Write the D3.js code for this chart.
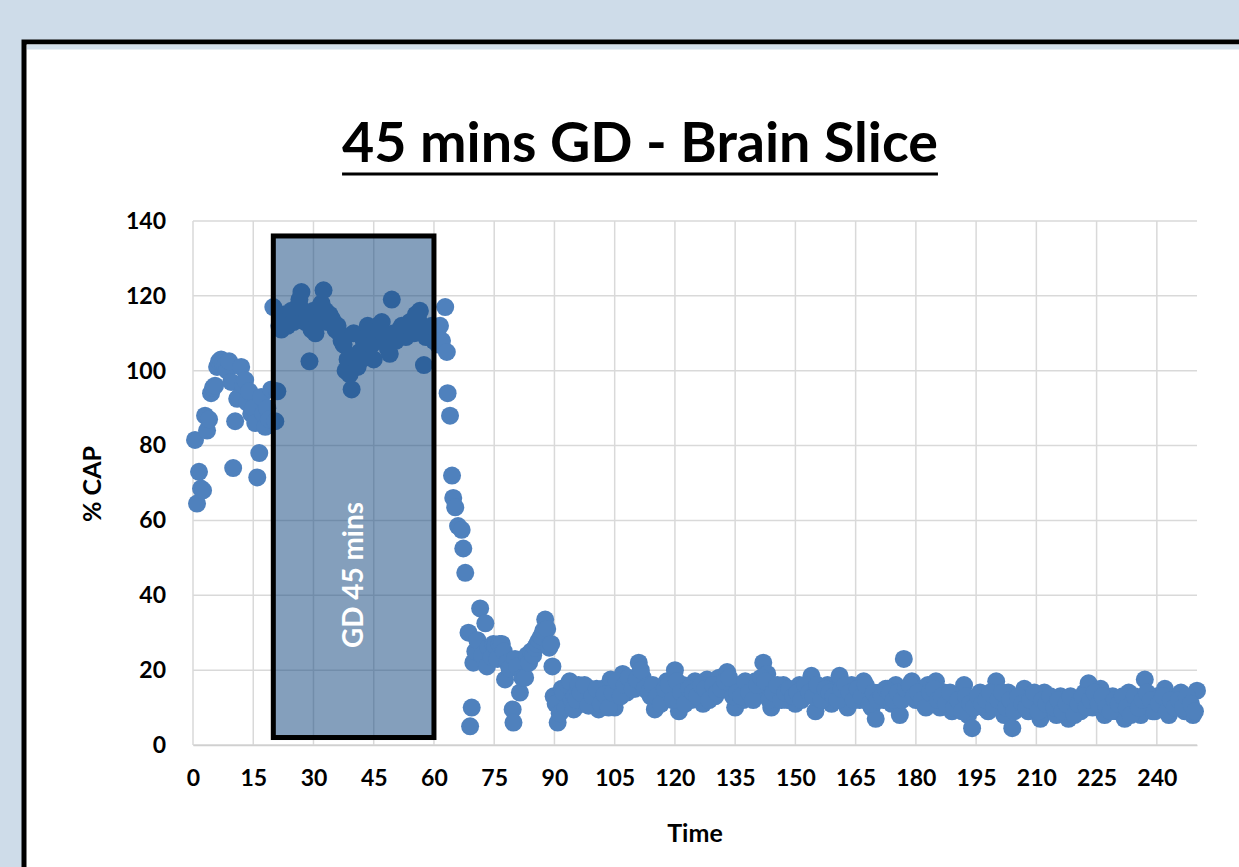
<!DOCTYPE html>
<html><head><meta charset="utf-8">
<script src="https://cdn.jsdelivr.net/npm/d3@7/dist/d3.min.js"></script>
<style>
html,body{margin:0;padding:0;background:#cedce9;}
svg{display:block;}
</style>
</head><body>
<svg id="chart" width="1239" height="867"></svg>
<script>
// ---- text ----
const titleText = "45 mins GD - Brain Slice";
const xLabel = "Time";
const yLabel = "% CAP";
const boxLabel = "GD 45 mins";

// ---- axes ----
const xTicks = [0,15,30,45,60,75,90,105,120,135,150,165,180,195,210,225,240];
const yTicks = [0,20,40,60,80,100,120,140];
const xDomain = [0,250];
const yDomain = [0,140];

// ---- GD window (time from, time to ; %CAP from, to) ----
const gdTime = [20,60];
const gdCap = [2,136];

// ---- data: baseline ----
const baseTime = [0.5,1,1.5,2,2.5,3,3.5,4,4.5,5,5.5,6,6.5,7,7.5,8,8.5,9,9.5,10,10.5,11,11.5,12,12.5,13,13.5,14,14.5,15,15.5,16,16.5,17,17.5,18,18.5,19,19.5,20,20.5,21];
const baseCap = [81.5,64.5,73,68.5,68,88,84,87,94,95.5,96,101,102.5,103,102,101.5,100,102.5,97,74,86.5,92.5,93,101,96,97.5,91.5,94.5,88.5,90,86,71.5,78,93,88.5,85,90,87,95,117,86.5,94.5];

// ---- data: glucose deprivation ----
const gdPhaseTime = [21.5,22,22.5,23,23.5,24,24.5,25,25.5,26,26.5,27,27.5,28,28.5,29,29.5,30,30.5,31,31.5,32,32.5,33,33.5,34,34.5,35,35.5,36,36.5,37,37.5,38,38.5,39,39.5,40,40.5,41,41.5,42,42.5,43,43.5,44,44.5,45,45.5,46,46.5,47,47.5,48,48.5,49,49.5,50,50.5,51,51.5,52,52.5,53,53.5,54,54.5,55,55.5,56,56.5,57,57.5,58,58.5,59,59.5,60];
const gdPhaseCap = [112,111,115,113,112,114,116,113,115,117,119,121,116,113,114,102.5,111,116,110,113,117,118,121.5,116,113,115,114,113,111,112,110,108,107,100,103,99,95,110,104,101,105,103,108,110,112,111,107,103,109,112,111,113,110,108,106,104.5,119,110,108,109,111,112,110,109,112,113,111,110,115,114,116,112,101.5,109,111,110,112,108];

// ---- data: decline after GD ----
const dropTime = [60.5,61,61.5,62,62.8,63.2,63.4,64,64.5,64.8,65.3,66,66.9,67.3,67.8,68.6,69,69.4,69.8,70.3,70.8,71.5,72,72.8,73.2,73.6,74.4,74.8,75.3,75.8,76.3,76.9,77.4,77.7,78.3,78.8,79.6,79.8,80.2,80.7,81.4,82,82.7,83.2,83.7,84.2,84.7,85.2,85.7,86.2,86.7,87.2,87.7,88.2,88.7,89.2,89.5,89.8,90.3,90.8,91.3,91.8,92.3,92.8,93.3,93.8,94.3,94.8];
const dropCap = [111,107,112,108,117,105,94,88,72,66,63.5,58.5,57.5,52.5,46,30,5,10,22,25,28,36.5,24,32.5,21,26,23.5,27,26.5,23,27,27,25,17.5,22,20.5,9.5,6,23,21,14,18,18,24,22,25,24,26,27,28,29,30.5,33.5,31,26,27,21,13,11,6,8.5,15,14,10,16,17,12,9.5];

// ---- data: recovery (whole minutes) ----
const recTime = [95,96,97,98,99,100,101,102,103,104,105,106,107,108,109,110,111,112,113,114,115,116,117,118,119,120,121,122,123,124,125,126,127,128,129,130,131,132,133,134,135,136,137,138,139,140,141,142,143,144,145,146,147,148,149,150,151,152,153,154,155,156,157,158,159,160,161,162,163,164,165,166,167,168,169,170,171,172,173,174,175,176,177,178,179,180,181,182,183,184,185,186,187,188,189,190,191,192,193,194,195,196,197,198,199,200,201,202,203,204,205,206,207,208,209,210,211,212,213,214,215,216,217,218,219,220,221,222,223,224,225,226,227,228,229,230,231,232,233,234,235,236,237,238,239,240,241,242,243,244,245,246,247,248,249,250];
const recCap = [13,16,11,15.5,12,14,9.5,15,12,17.5,10,16,19,14,17,15,22,18,16,13,9.5,15,12,17,14,20,9,16,13,12,17,14,11,17.5,15,13,18,16,19.5,14,10,16,12,15,13,17,14,22,19,10,15,13,16,12,14,11,16,13,15,18.5,9,14,12,16,11,15,18.5,13,10,16,14,12,17,13,10,7,14,12,15,11,16,8,23,14,17,12,15,11,16,13,17,10,14,12,9,13,11,16,8,4.5,12,14,10,9,13,17,11,8,14,4.5,12,10,15,9,13,11,7,14,10,12,8,13,11,7,10,12,9,14,16.5,10,12,15,8,11,13,9,12,7,14,10,12,8,17.5,11,9,13,10,15,8,12,10,14,9,12,8,14.5];

// ---- data: recovery (half minutes) ----
const recHalfTime = [95.5,96.5,97.5,98.5,99.5,100.5,101.5,102.5,103.5,104.5,105.5,106.5,107.5,108.5,109.5,110.5,111.5,112.5,113.5,114.5,115.5,116.5,117.5,118.5,119.5,120.5,121.5,122.5,123.5,124.5,125.5,126.5,127.5,128.5,129.5,130.5,131.5,132.5,133.5,134.5,135.5,136.5,137.5,138.5,139.5,140.5,141.5,142.5,143.5,144.5,145.5,146.5,147.5,148.5,149.5,150.5,151.5,152.5,153.5,154.5,155.5,156.5,157.5,158.5,159.5,160.5,161.5,162.5,163.5,164.5,165.5,166.5,167.5,168.5,169.5,170.5,171.5,172.5,173.5,174.5,175.5,176.5,177.5,178.5,179.5,180.5,181.5,182.5,183.5,184.5,185.5,186.5,187.5,188.5,189.5,190.5,191.5,192.5,193.5,194.5,195.5,196.5,197.5,198.5,199.5,200.5,201.5,202.5,203.5,204.5,205.5,206.5,207.5,208.5,209.5,210.5,211.5,212.5,213.5,214.5,215.5,216.5,217.5,218.5,219.5,220.5,221.5,222.5,223.5,224.5,225.5,226.5,227.5,228.5,229.5,230.5,231.5,232.5,233.5,234.5,235.5,236.5,237.5,238.5,239.5,240.5,241.5,242.5,243.5,244.5,245.5,246.5,247.5,248.5,249.5];
const recHalfCap = [12,14,16,10.5,13,15,11,13.5,10,14,17,13,16,18,15,17.5,20,15,14,16,13,11,15,16,12,17,14,11,15,14,13,16,15,12,16,14,15,17,18,13,14,13,17,14,12,16,18,17,12,14,16,12,14,15,13,14,12,16,14,13,16,12,15,14,13,12,15,16,14,12,15,13,16,11,14,12,13,15,14,12,14,12,15,16,13,14,12,10,14,15,12,13,11,14,10,12,9,13,11,10,13,11,12,14,10,12,14,10,12,9,13,11,10,12,14,9,12,11,13,10,12,9,11,13,8,11,13,10,12,14,11,13,10,9,12,11,13,10,8,13,10,12,14,12,9,11,13,9,12,10,12,10,13,11,9];

const segments = [[baseTime,baseCap],[gdPhaseTime,gdPhaseCap],[dropTime,dropCap],[recTime,recCap],[recHalfTime,recHalfCap]];
const points = [];
segments.forEach(([t,v]) => t.forEach((ti,i) => points.push({t:ti, v:v[i]})));

// ---- drawing ----
const svg = d3.select("#chart");
const FONT = "Lato, 'Open Sans', 'Liberation Sans', sans-serif";

// panel
svg.append("rect").attr("x",24).attr("y",42).attr("width",1300).attr("height",900)
  .attr("fill","#ffffff").attr("stroke","#000").attr("stroke-width",5);
svg.append("rect").attr("x",27).attr("y",44.5).attr("width",1215).attr("height",5).attr("fill","#d3e0ec");

const x = d3.scaleLinear().domain(xDomain).range([193,1197]);
const y = d3.scaleLinear().domain(yDomain).range([745,221]);

const grid = svg.append("g");
grid.selectAll("line.v").data(xTicks).join("line")
  .attr("x1",d=>x(d)).attr("x2",d=>x(d)).attr("y1",y(yDomain[1])).attr("y2",y(0))
  .attr("stroke","#d9d9d9").attr("stroke-width",1.5);
grid.selectAll("line.h").data(yTicks).join("line")
  .attr("x1",x(0)).attr("x2",x(xDomain[1])).attr("y1",d=>y(d)).attr("y2",d=>y(d))
  .attr("stroke","#d9d9d9").attr("stroke-width",1.5);

// axes (labels only)
const xAxis = svg.append("g").attr("transform",`translate(0,${y(0)})`)
  .call(d3.axisBottom(x).tickValues(xTicks).tickSize(0).tickPadding(25));
xAxis.select(".domain").attr("stroke","#d0d0d0").attr("stroke-width",1.5);
xAxis.selectAll("text").attr("font-family",FONT).attr("font-weight","bold").attr("font-size",23).attr("fill","#000");

const yAxis = svg.append("g").attr("transform",`translate(${x(0)},0)`)
  .call(d3.axisLeft(y).tickValues(yTicks).tickSize(0).tickPadding(27));
yAxis.select(".domain").remove();
yAxis.selectAll("text").attr("font-family",FONT).attr("font-weight","bold").attr("font-size",23).attr("fill","#000");

// points
svg.append("g").selectAll("circle").data(points).join("circle")
  .attr("cx",d=>x(d.t)).attr("cy",d=>y(d.v)).attr("r",9).attr("fill","#4f81bd");

// GD box
svg.append("rect")
  .attr("x",x(gdTime[0])).attr("y",y(gdCap[1]))
  .attr("width",x(gdTime[1])-x(gdTime[0])).attr("height",y(gdCap[0])-y(gdCap[1]))
  .attr("fill","#13467f").attr("fill-opacity",0.52)
  .attr("stroke","#000").attr("stroke-width",5);
const bx = (x(gdTime[0])+x(gdTime[1]))/2, by = 575;
const bt = svg.append("text").attr("transform",`translate(${bx+9},${by}) rotate(-90)`)
  .attr("text-anchor","middle").attr("font-family",FONT).attr("font-weight","bold")
  .attr("font-size",26).attr("fill","#fff").text(boxLabel);
{
  const w = bt.node().getComputedTextLength();
  bt.attr("font-size", 26*146/w);
}

// title
const tt = svg.append("text").attr("x",640).attr("y",162).attr("text-anchor","middle")
  .attr("font-family",FONT).attr("font-weight","bold").attr("font-size",46).attr("fill","#000").text(titleText);
{
  const w = tt.node().getComputedTextLength();
  tt.attr("font-size", 46*596/w);
  const bb = tt.node().getBBox();
  svg.append("line").attr("x1",bb.x).attr("x2",bb.x+bb.width).attr("y1",174).attr("y2",174)
    .attr("stroke","#000").attr("stroke-width",3);
}

// axis titles
svg.append("text").attr("x",695).attr("y",842).attr("text-anchor","middle")
  .attr("font-family",FONT).attr("font-weight","bold").attr("font-size",25).attr("fill","#000").text(xLabel);
svg.append("text").attr("transform","translate(101,484) rotate(-90)").attr("text-anchor","middle")
  .attr("font-family",FONT).attr("font-weight","bold").attr("font-size",25).attr("fill","#000").text(yLabel);
</script>
</body></html>
